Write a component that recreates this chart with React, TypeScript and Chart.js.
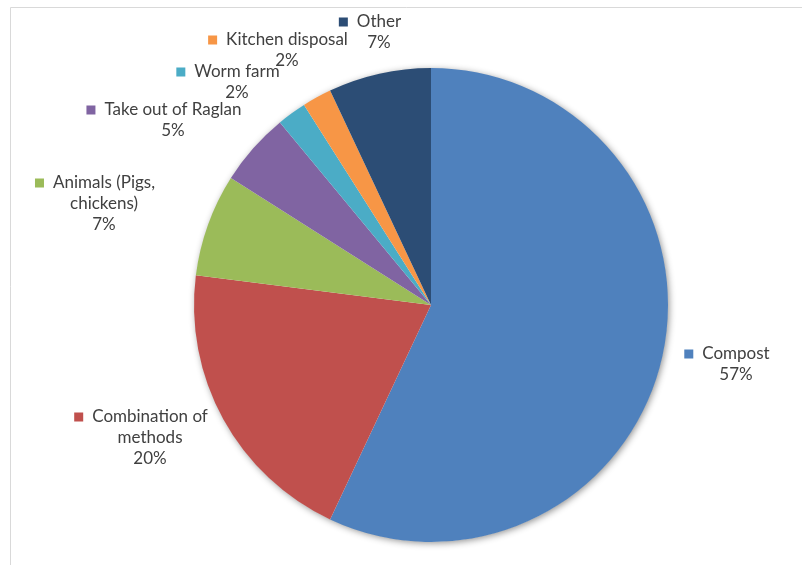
import React, { useEffect, useRef } from "react";
import { Chart, registerables } from "chart.js";

Chart.register(...registerables);

const categories = [
  "Compost",
  "Combination of methods",
  "Animals (Pigs, chickens)",
  "Take out of Raglan",
  "Worm farm",
  "Kitchen disposal",
  "Other",
];
const values = [57, 20, 7, 5, 2, 2, 7];
const colors = ["#4F81BD", "#C0504D", "#9BBB59", "#8064A2", "#4BACC6", "#F79646", "#2C4D75"];
// label text lines per category
const labelLines = [
  ["Compost"],
  ["Combination of", "methods"],
  ["Animals (Pigs,", "chickens)"],
  ["Take out of Raglan"],
  ["Worm farm"],
  ["Kitchen disposal"],
  ["Other"],
];
// first-line anchor offsets from the pie centre (style/layout)
const labelOffsets = [
  [305, 49],
  [-281, 112],
  [-327, -122],
  [-258, -195],
  [-194, -233],
  [-144, -265],
  [-52, -283],
];

const FONT = "17px Lato, 'Open Sans', sans-serif";
const LINE_H = 21;

const labelPlugin = {
  id: "customLabels",
  beforeDraw(chart: any) {
    const ctx = chart.ctx;
    ctx.save();
    ctx.strokeStyle = "#D9D9D9";
    ctx.lineWidth = 1;
    ctx.beginPath();
    ctx.moveTo(10.5, chart.height);
    ctx.lineTo(10.5, 7.5);
    ctx.lineTo(chart.width, 7.5);
    ctx.stroke();
    ctx.restore();
  },
  beforeDatasetsDraw(chart: any) {
    const meta = chart.getDatasetMeta(0);
    const arc = meta.data[0];
    if (!arc) return;
    const { x, y, outerRadius } = arc.getProps(["x", "y", "outerRadius"], true);
    const ctx = chart.ctx;
    ctx.save();
    ctx.shadowColor = "rgba(0,0,0,0.45)";
    ctx.shadowBlur = 7;
    ctx.shadowOffsetX = 1.5;
    ctx.shadowOffsetY = 1.5;
    ctx.fillStyle = "#ffffff";
    ctx.beginPath();
    ctx.arc(x, y, outerRadius - 0.5, 0, Math.PI * 2);
    ctx.fill();
    ctx.restore();
  },
  afterDatasetsDraw(chart: any) {
    const meta = chart.getDatasetMeta(0);
    const arc0 = meta.data[0];
    if (!arc0) return;
    const { x, y } = arc0.getProps(["x", "y"], true);
    const ctx = chart.ctx;
    const total = values.reduce((a, b) => a + b, 0);
    ctx.save();
    ctx.font = FONT;
    ctx.textAlign = "center";
    ctx.textBaseline = "middle";
    categories.forEach((_, i) => {
      const lines = [...labelLines[i], Math.round((values[i] / total) * 100) + "%"];
      const cx = x + labelOffsets[i][0];
      const top = y + labelOffsets[i][1];
      lines.forEach((ln, j) => {
        ctx.fillStyle = "#404040";
        ctx.fillText(ln, cx, top + j * LINE_H);
        if (j === 0) {
          const w = ctx.measureText(ln).width;
          ctx.fillStyle = colors[i];
          ctx.fillRect(cx - w / 2 - 18, top - 4.5, 9, 9);
        }
      });
    });
    ctx.restore();
  },
};

export default function App() {
  const ref = useRef<HTMLCanvasElement>(null);
  useEffect(() => {
    document.body.style.margin = "0";
    const chart = new Chart(ref.current!, {
      type: "pie",
      data: {
        labels: categories,
        datasets: [
          {
            data: values,
            backgroundColor: colors,
            borderWidth: 0,
          },
        ],
      },
      options: {
        animation: false,
        responsive: false,
        layout: { padding: { top: 68, bottom: 23, left: 194, right: 134 } },
        plugins: { legend: { display: false }, tooltip: { enabled: false } },
      },
      plugins: [labelPlugin],
    });
    return () => chart.destroy();
  }, []);
  return (
    <div style={{ width: 802, height: 565, background: "#fff" }}>
      <canvas ref={ref} width={802} height={565} />
    </div>
  );
}
